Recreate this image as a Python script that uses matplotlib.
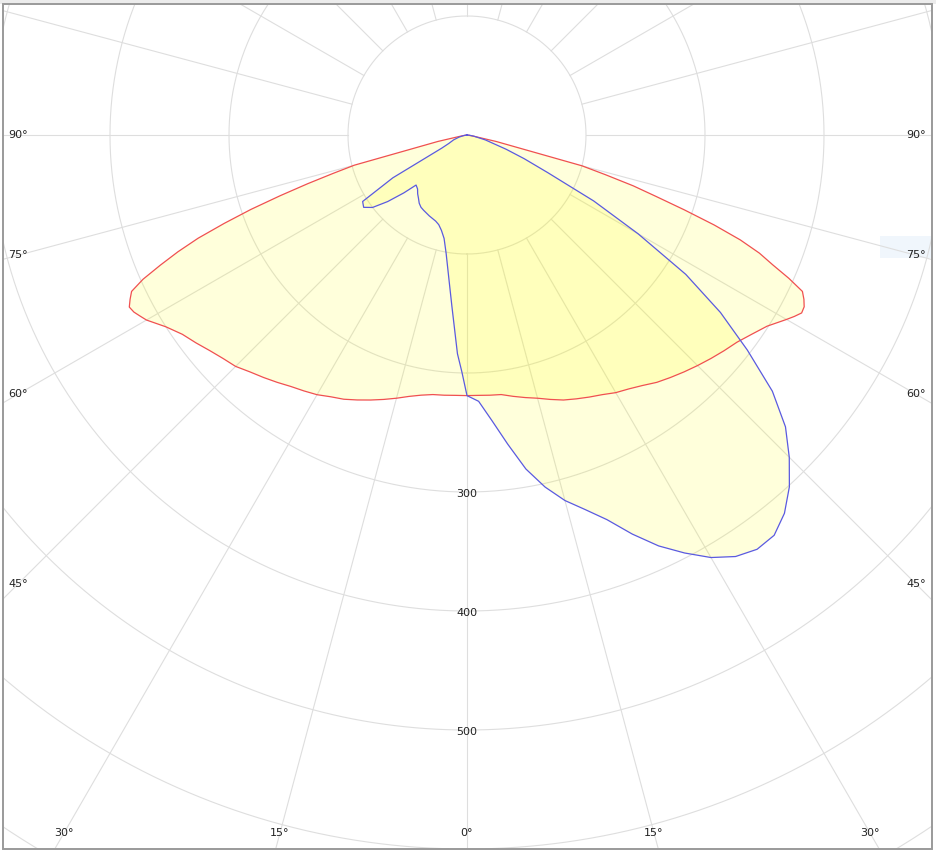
import numpy as np
import matplotlib
matplotlib.use("Agg")
import matplotlib.pyplot as plt
from matplotlib.patches import Rectangle

# ---------------- data (intensity vs. angle, degrees from nadir) ----------------
red_angles = [-90, -85, -80, -77.5, -75, -74, -73, -72, -71, -70, -69, -68, -67, -66, -65,
              -64, -63, -62, -61, -60, -57.5, -55, -52.5, -50, -47.5, -45, -42.5, -40,
              -37.5, -35, -32.5, -30, -27.5, -25, -22.5, -20, -17.5, -15, -12.5, -10,
              -7.5, -5, -2.5, 0, 2.5, 5, 7.5, 10, 12.5, 15, 17.5, 20, 22.5, 25, 27.5,
              30, 32.5, 35, 37.5, 40, 42.5, 45, 47.5, 50, 52.5, 55, 57.5, 60, 61, 62,
              63, 64, 65, 66, 67, 68, 69, 70, 71, 72, 73, 74, 75, 77.5, 80, 85, 90]
red_values = [0, 0, 5, 25, 98, 117, 140, 165, 192, 217, 242, 262, 280, 298, 311,
              315, 318.5, 317, 314, 311, 300, 292, 287, 282, 278, 275, 270, 266,
              262, 258, 255, 252, 248, 245, 241, 237, 233, 229, 225, 222,
              220, 219.5, 219, 219, 219, 219.5, 220, 223, 226, 229, 233, 237, 240, 243, 246,
              250, 253, 257, 262, 266, 270, 274, 278, 282, 286, 292, 299, 310, 314.5, 318.5,
              318, 315, 311, 296, 279, 265, 246, 221, 193, 167, 146, 121, 100, 25, 5, 0, 0]

blue_angles = [-90, -85, -80, -75, -70, -65, -62.5, -60, -57.5, -55, -52.5, -50, -47.5,
               -45.5, -42.5, -40, -37.5, -35, -32.5, -30, -25, -20, -17.5, -15, -12.5,
               -10, -7.5, -5, -2.5, -1.25, 0, 2.5, 5, 7.5, 10, 12.5, 15, 17.5, 20, 22.5,
               25, 27.5, 30, 32.5, 35, 37.5, 40, 42.5, 45, 47.5, 50, 52.5, 55, 57.5, 60,
               62.5, 65, 67.5, 70, 75, 80, 85, 90]
blue_values = [0, 1, 3, 7, 12, 17, 24, 72, 104, 106, 100, 87, 72,
               60, 61.5, 64.5, 67, 70, 72, 73, 75, 77, 79, 83, 89,
               101, 119, 145, 184, 199, 219, 224, 241, 262, 285, 303, 318, 330, 344, 363,
               381, 396, 410, 420, 425, 424, 415, 401, 383, 363, 335, 297, 260, 218, 166,
               120, 75, 52, 35, 16, 6, 2, 0]

ring_values = [100, 200, 300, 400, 500, 600, 700]
ring_labels = [300, 400, 500]
spoke_angles = list(range(0, 360, 15))
side_labels = [90, 75, 60, 45]
bottom_labels = [-30, -15, 0, 15, 30]

# ---------------- layout ----------------
W, H = 937, 852
DPI = 100
fig = plt.figure(figsize=(W / DPI, H / DPI), dpi=DPI)
fig.patch.set_facecolor("white")

cx, cy = 467.0, H - 135.0      # pole position in pixels (from bottom-left)
ppu = 1.19                      # pixels per intensity unit
rmax = 800
R = rmax * ppu
ax = fig.add_axes([(cx - R) / W, (cy - R) / H, 2 * R / W, 2 * R / H], projection="polar")
ax.set_theta_zero_location("S")
ax.set_theta_direction(1)
ax.set_ylim(0, rmax)
ax.grid(False)
ax.set_xticks([])
ax.set_yticks([])
ax.spines["polar"].set_visible(False)
ax.patch.set_visible(False)

grid_c = "#dedede"
full = np.linspace(0, 2 * np.pi, 1441)
for rv in ring_values:
    ax.plot(full, np.full_like(full, rv), color=grid_c, lw=0.8, zorder=1)
for a in spoke_angles:
    t = np.deg2rad(a)
    ax.plot([t, t], [100, rmax], color=grid_c, lw=0.8, zorder=1)

rt = np.deg2rad(red_angles)
bt = np.deg2rad(blue_angles)
ax.fill(rt, red_values, color="#ffff00", alpha=0.14, lw=0, zorder=2)
ax.fill(bt, blue_values, color="#ffff00", alpha=0.14, lw=0, zorder=2)
ax.plot(rt, red_values, color="#f05050", lw=0.9, zorder=3)
ax.plot(bt, blue_values, color="#5a5ae0", lw=0.9, zorder=3)

txt_c = "#222222"
for rv in ring_labels:
    ax.text(0, rv + 2, str(rv), ha="center", va="center", fontsize=8, color=txt_c, zorder=4)

side_dx = 449 / ppu
for a in side_labels:
    r = side_dx / np.sin(np.deg2rad(a))
    for s in (-1, 1):
        ax.text(np.deg2rad(s * a), r, f"{a}°", ha="center", va="center",
                fontsize=8, color=txt_c, zorder=4)
bot_dy = 698 / ppu
for b in bottom_labels:
    r = bot_dy / np.cos(np.deg2rad(b))
    ax.text(np.deg2rad(b), r, f"{abs(b)}°", ha="center", va="center",
            fontsize=8, color=txt_c, zorder=4)

# ---------------- frame and surroundings ----------------
def fig_rect(x0, y0, w, h, **kw):
    fig.add_artist(Rectangle((x0 / W, y0 / H), w / W, h / H, transform=fig.transFigure, **kw))

# faint highlight box near the right edge (behind the chart)
fig_rect(880, H - 258, 52, 22, facecolor="#f0f6fc", edgecolor="none", zorder=-1)
# masks outside the frame
fig_rect(0, 0, 3, H, facecolor="white", edgecolor="none", zorder=9)
fig_rect(932, 0, 5, H, facecolor="white", edgecolor="none", zorder=9)
fig_rect(0, 0, W, 3, facecolor="white", edgecolor="none", zorder=9)
fig_rect(0, H - 4, W, 4, facecolor="#ececec", edgecolor="none", zorder=9)
# frame border
fig_rect(3, 3, 929, 845, facecolor="none", edgecolor="#9a9a9a", lw=1.4, zorder=10)

fig.savefig("out.png", dpi=DPI)
